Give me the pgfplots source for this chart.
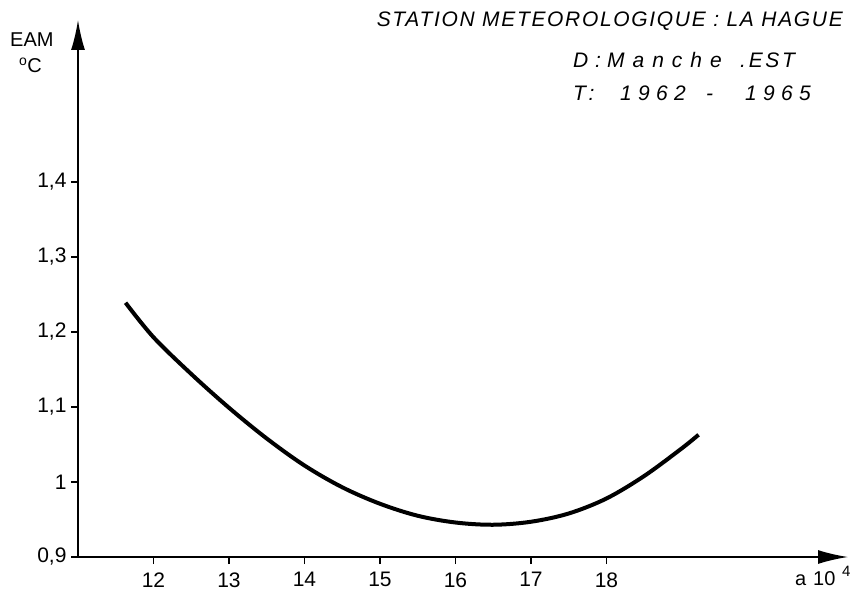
\documentclass[border=0pt]{standalone}
\usepackage{fontspec}
\setmainfont{Liberation Sans}
\usepackage{graphicx}
\usepackage{pgfplots}
\pgfplotsset{compat=1.18}
\usetikzlibrary{arrows.meta}
\begin{document}
\begin{tikzpicture}[x=1pt,y=1pt]
\useasboundingbox (0,0) rectangle (856,595);
\begin{axis}[
  at={(78pt,38pt)}, anchor=south west,
  scale only axis, width=770pt, height=537pt,
  xmin=11, xmax=21.2, ymin=0.9, ymax=1.616,
  axis lines=left,
  axis line style={line width=1.6pt, -{Latex[length=30pt,width=14pt]}},
  xtick={12,13,14,15,16,17,18},
  ytick={0.9,1.0,1.1,1.2,1.3,1.4},
  tick align=outside,
  major tick length=7pt,
  tick style={line width=1.3pt, black},
  /pgf/number format/use comma,
  /pgf/number format/assume math mode=true,
  tick label style={font=\fontsize{21}{24}\selectfont},
  xticklabel style={yshift=-5pt},
  yticklabel style={xshift=-1pt},
  clip=false,
]
\addplot[line width=4pt, black, smooth, tension=0.55] coordinates {
 (11.63,1.239) (12,1.193) (12.5,1.144) (13,1.099) (13.5,1.058) (14,1.022)
 (14.5,0.993) (15,0.971) (15.5,0.955) (16,0.946) (16.5,0.943) (17,0.947)
 (17.5,0.958) (18,0.978) (18.5,1.008) (19,1.045) (19.22,1.063)
};
\end{axis}
\node[anchor=base west, font=\fontsize{20}{22}\selectfont, inner sep=0pt] at (10,548) {EAM};
\node[anchor=base west, font=\fontsize{20}{22}\selectfont, inner sep=0pt] at (19,522) {\textsuperscript{o}C};
\node[anchor=base west, font=\fontsize{20}{22}\selectfont, inner sep=0pt] at (795,10) {a};
\node[anchor=base west, font=\fontsize{20}{22}\selectfont, inner sep=0pt] at (813,10) {10};
\node[anchor=base west, font=\fontsize{15}{18}\selectfont, inner sep=0pt] at (842,19) {4};
\node[anchor=base east, inner sep=0pt] at (843,568) {\resizebox{466pt}{!}{\fontsize{21}{24}\selectfont\itshape\addfontfeature{LetterSpace=8}STATION METEOROLOGIQUE : LA HAGUE}};
\begin{scope}[every node/.style={anchor=base west, inner sep=0pt, font=\fontsize{21}{24}\selectfont\itshape}]
\node at (573,527) {D};
\node at (595,527) {:};
\node at (607,527) {\addfontfeature{LetterSpace=38}Manche};
\node at (740,527) {\addfontfeature{LetterSpace=13}.EST};
\node at (573,494) {\addfontfeature{LetterSpace=20}T:};
\node at (620,494) {\addfontfeature{LetterSpace=30}1962};
\node at (706,494) {-};
\node at (745,494) {\addfontfeature{LetterSpace=30}1965};
\end{scope}
\end{tikzpicture}
\end{document}
